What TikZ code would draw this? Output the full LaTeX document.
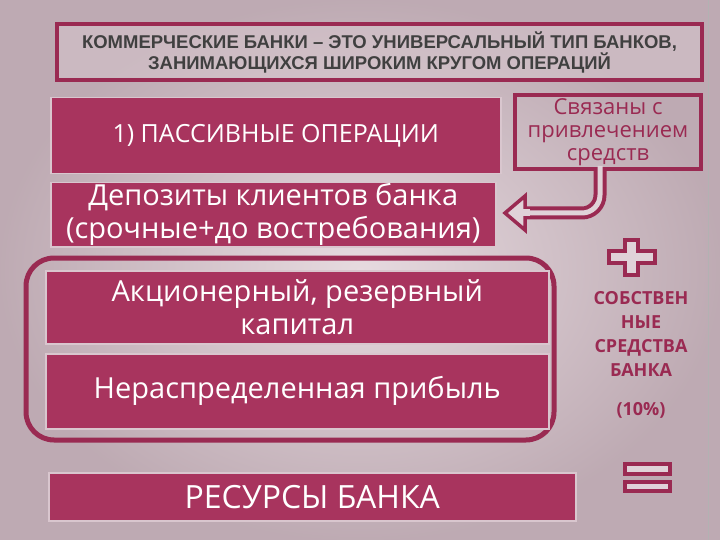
\documentclass[tikz,border=0pt]{standalone}
\usepackage{fontspec}
\setmainfont{Open Sans}
\newfontfamily\arialf{Liberation Sans}
\begin{document}
\begin{tikzpicture}[x=1pt,y=-1pt,
  crim/.style={fill=boxc,draw=edgec,line width=1.5pt},
  wtxt/.style={text=white,align=center},
  outl/.style={draw=darkc,line width=4pt}]
\definecolor{boxc}{HTML}{A8345E}
\definecolor{edgec}{HTML}{D9C6CE}
\definecolor{darkc}{HTML}{9A2A52}
\definecolor{bgc}{HTML}{C9B2BC}
\definecolor{bgl}{HTML}{E6DADF}
\useasboundingbox (0,0) rectangle (720,540);
\shade[inner color=bgl,outer color=bgc!85!gray] (0,0) rectangle (720,540);
\draw[gray!60,line width=1pt] (708,0) -- (708,540);
% title
\node[outl,fill=white!30!bgc,fill opacity=0.5,text opacity=1,minimum width=645,minimum height=56,anchor=north west,font=\arialf\bfseries\fontsize{18.5}{21}\selectfont,text=black!75,align=center] (title) at (55,22) {КОММЕРЧЕСКИЕ БАНКИ – ЭТО УНИВЕРСАЛЬНЫЙ  ТИП БАНКОВ,\\ЗАНИМАЮЩИХСЯ ШИРОКИМ КРУГОМ ОПЕРАЦИЙ};
% passive
\node[crim,wtxt,minimum width=450,minimum height=76,anchor=north west,font=\fontsize{25}{28}\selectfont] (pass) at (50,97) {1) ПАССИВНЫЕ  ОПЕРАЦИИ};
\node[outl,minimum width=186,minimum height=74,anchor=north west,text=darkc,font=\fontsize{22}{23}\selectfont,align=center,inner sep=1pt] (sv) at (513,93) {Связаны с\\привлечением\\средств};
\node[crim,wtxt,minimum width=445,minimum height=63,anchor=north west,font=\fontsize{29}{33}\selectfont,inner sep=1pt] (dep) at (50,182) {Депозиты клиентов банка\\(срочные+до востребования)};
% arrow
\coordinate (a1) at (600,168);
\coordinate (a2) at (520,213);
\draw[darkc,line width=13pt] (a1) -- (600,195) arc[start angle=0,end angle=90,radius=18] -- (a2);
\draw[bgl!80!bgc,line width=5pt] (600,166) -- (600,195) arc[start angle=0,end angle=90,radius=18] -- (522,213);
\draw[darkc,line width=3.5pt,fill=bgl!80!bgc,line join=miter] (525,196) -- (505,213) -- (525,230) -- cycle;
\fill[bgl!80!bgc] (521,209.5) rectangle (530,216.5);
% group
\draw[darkc,line width=5pt,rounded corners=28pt] (26,258) rectangle (554,440);
\node[crim,wtxt,minimum width=503,minimum height=73,anchor=north west,font=\fontsize{29}{33}\selectfont,inner sep=1pt] (cap) at (45,270) {Акционерный, резервный\\капитал};
\node[crim,wtxt,minimum width=503,minimum height=75,anchor=north west,font=\fontsize{29}{33}\selectfont] (prof) at (45,353) {Нераспределенная прибыль};
% plus
\draw[darkc,line width=3.5pt,fill=bgl!80!bgc] (625,240) -- (638,240) -- (638,251) -- (655,251) -- (655,263) -- (638,263) -- (638,275) -- (625,275) -- (625,263) -- (609,263) -- (609,251) -- (625,251) -- cycle;
\node[text=darkc,font=\bfseries\fontsize{18}{24}\selectfont,align=center] (own) at (641,334) {СОБСТВЕН\\НЫЕ\\СРЕДСТВА\\БАНКА};
\node[text=darkc,font=\bfseries\fontsize{18}{20}\selectfont] (pct) at (641,410) {(10\%)};
% resources
\node[crim,wtxt,minimum width=527,minimum height=48,anchor=north west,font=\fontsize{32}{34}\selectfont] (res) at (48,472) {РЕСУРСЫ БАНКА};
% equals
\draw[darkc,line width=4pt,fill=bgl!80!bgc] (625,464) rectangle (670,474);
\draw[darkc,line width=4pt,fill=bgl!80!bgc] (625,482) rectangle (670,491);
\end{tikzpicture}
\end{document}
